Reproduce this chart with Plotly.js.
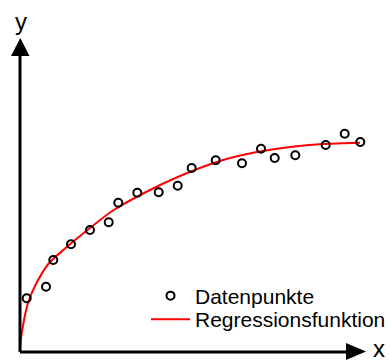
<!DOCTYPE html>
<html>
<head>
<meta charset="utf-8">
<script src="https://cdn.plot.ly/plotly-3.0.1.min.js"></script>
<style>html,body{margin:0;padding:0;background:#fff;}#chart{width:390px;height:360px;}</style>
</head>
<body>
<div id="chart"></div>
<script>
// Data points
var pointsX = [0.67, 2.6, 3.33, 5.1, 7.0, 8.87, 9.83, 11.73, 13.87, 15.77, 17.17, 19.57, 22.2, 24.1, 25.47, 27.53, 30.57, 32.47, 34.03];
var pointsY = [5.37, 6.53, 9.2, 10.77, 12.2, 12.97, 14.93, 15.93, 15.97, 16.63, 18.4, 19.17, 18.87, 20.33, 19.4, 19.67, 20.7, 21.83, 21.0];

// Regression curve samples
var curveX = [0.0, 0.08, 0.23, 0.5, 0.83, 1.5, 2.83, 4.5, 7.0, 9.3, 12.7, 16.0, 20.3, 23.7, 27.0, 30.3, 34.0];
var curveY = [0.0, 1.2, 2.2, 3.7, 5.0, 6.6, 8.8, 10.35, 12.4, 14.15, 16.05, 17.6, 19.2, 20.0, 20.5, 20.8, 20.93];

var seriesNames = ["Datenpunkte", "Regressionsfunktion"];
var axisLabels = {x: "x", y: "y"};

var FONT = "Liberation Sans, Arial, sans-serif";

var traces = [
  {
    x: curveX, y: curveY, type: "scatter", mode: "lines",
    name: seriesNames[1], legend: "legend2",
    line: {color: "#ff0000", width: 2, shape: "spline", smoothing: 0.8},
    cliponaxis: false, hoverinfo: "skip"
  },
  {
    x: pointsX, y: pointsY, type: "scatter", mode: "markers",
    name: seriesNames[0], legend: "legend",
    marker: {symbol: "circle-open", size: 8, color: "#000000", line: {width: 2, color: "#000000"}},
    cliponaxis: false
  }
];

function px2paperX(px) { return (px - 20) / 350; }
function px2paperY(py) { return (352 - py) / 332; }

var shapes = [
  {type: "line", xref: "paper", yref: "paper", x0: 0, y0: 0, x1: 0, y1: px2paperY(50),
   line: {color: "#000", width: 3}},
  {type: "line", xref: "paper", yref: "paper", x0: 0, y0: 0, x1: px2paperX(350), y1: 0,
   line: {color: "#000", width: 3}},
  {type: "path", xref: "paper", yref: "paper",
   path: "M " + px2paperX(11) + "," + px2paperY(56) + " L " + px2paperX(29.5) + "," + px2paperY(56) +
         " L " + px2paperX(20.3) + "," + px2paperY(38) + " Z",
   fillcolor: "#000", line: {color: "#000", width: 0}},
  {type: "path", xref: "paper", yref: "paper",
   path: "M " + px2paperX(346) + "," + px2paperY(343) + " L " + px2paperX(346) + "," + px2paperY(360) +
         " L " + px2paperX(366) + "," + px2paperY(351.5) + " Z",
   fillcolor: "#000", line: {color: "#000", width: 0}}
];

var annotations = [
  {text: axisLabels.y, xref: "paper", yref: "paper", x: px2paperX(21), y: px2paperY(21),
   xanchor: "center", yanchor: "middle", showarrow: false, font: {family: FONT, size: 24, color: "#000"}},
  {text: axisLabels.x, xref: "paper", yref: "paper", x: px2paperX(378.5), y: px2paperY(348),
   xanchor: "center", yanchor: "middle", showarrow: false, height: 22, valign: "middle",
   font: {family: FONT, size: 24, color: "#000"}}
];

var legendBase = {
  xanchor: "left", yanchor: "top",
  bgcolor: "rgba(0,0,0,0)", borderwidth: 0,
  font: {family: FONT, size: 21, color: "#000"},
  itemwidth: 39
};

var layout = {
  width: 390, height: 360,
  margin: {l: 20, r: 20, t: 20, b: 8, pad: 0, autoexpand: false},
  paper_bgcolor: "#fff", plot_bgcolor: "#fff",
  showlegend: true,
  legend: Object.assign({}, legendBase, {x: px2paperX(146), y: px2paperY(275.5)}),
  legend2: Object.assign({}, legendBase, {x: px2paperX(146), y: px2paperY(299)}),
  xaxis: {range: [0, 35], showgrid: false, zeroline: false, showline: false, showticklabels: false, ticks: "", fixedrange: true},
  yaxis: {range: [0, 33.2], showgrid: false, zeroline: false, showline: false, showticklabels: false, ticks: "", fixedrange: true},
  shapes: shapes,
  annotations: annotations,
  font: {family: FONT}
};

Plotly.newPlot("chart", traces, layout, {staticPlot: true, displayModeBar: false});
</script>
</body>
</html>
